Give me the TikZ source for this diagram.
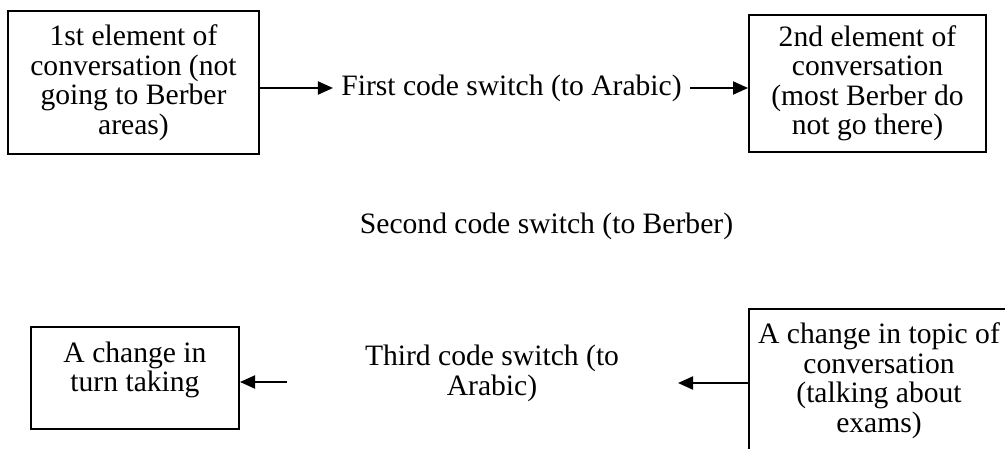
\documentclass[tikz,border=0pt]{standalone}
\usepackage{fontspec}
\setmainfont{Liberation Serif}
\usetikzlibrary{arrows.meta}
\newdimen\pxu \pxu=0.5pt
\begin{document}
\begin{tikzpicture}[x=0.5pt,y=-0.5pt,
  every node/.style={font=\fontsize{14.8}{14.75}\selectfont},
  box/.style={draw, line width=1pt, align=center, inner sep=0pt},
  conn/.style={line width=1pt, -{Triangle[length=7.5pt,width=6.5pt]}}]
\useasboundingbox (0,0) rectangle (1005,449);
\clip (0,0) rectangle (1005,449);

% top row
\node[box, minimum width=251\pxu, minimum height=143\pxu] (b1) at (133.5,82.5)
  {1st element of\\conversation (not\\going to Berber\\areas)};
\node[box, minimum width=237\pxu, minimum height=137\pxu] (b2) at (867.5,83.5)
  {2nd element of\\conversation\\(most Berber do\\not go there)};
\node[inner xsep=4pt, inner ysep=0pt] (s1) at (511.5,88) {First code switch (to Arabic)};
\draw[conn] (b1.east |- s1.west) -- (s1.west);
\draw[conn] (s1.east) -- (b2.west |- s1.east);

% middle
\node[anchor=base] (s2) at (546.5,233) {Second code switch (to Berber)};

% bottom row
\node[box, minimum width=208\pxu, minimum height=102\pxu] (b3) at (135,378) {};
\node[align=center] (b3t) at (135,370) {A change in\\turn taking};
\node[align=center] (s3) at (492,373.5) {Third code switch (to\\Arabic)};
\node[box, minimum width=260\pxu, minimum height=143\pxu] (b4) at (879,380.5)
  {A change in topic of\\conversation\\(talking about\\exams)};
\coordinate (a3) at (287,382);
\coordinate (a4) at (678,383);
\draw[conn] (a3) -- (b3.east |- a3);
\draw[conn] (b4.west |- a4) -- (a4);
\end{tikzpicture}
\end{document}
